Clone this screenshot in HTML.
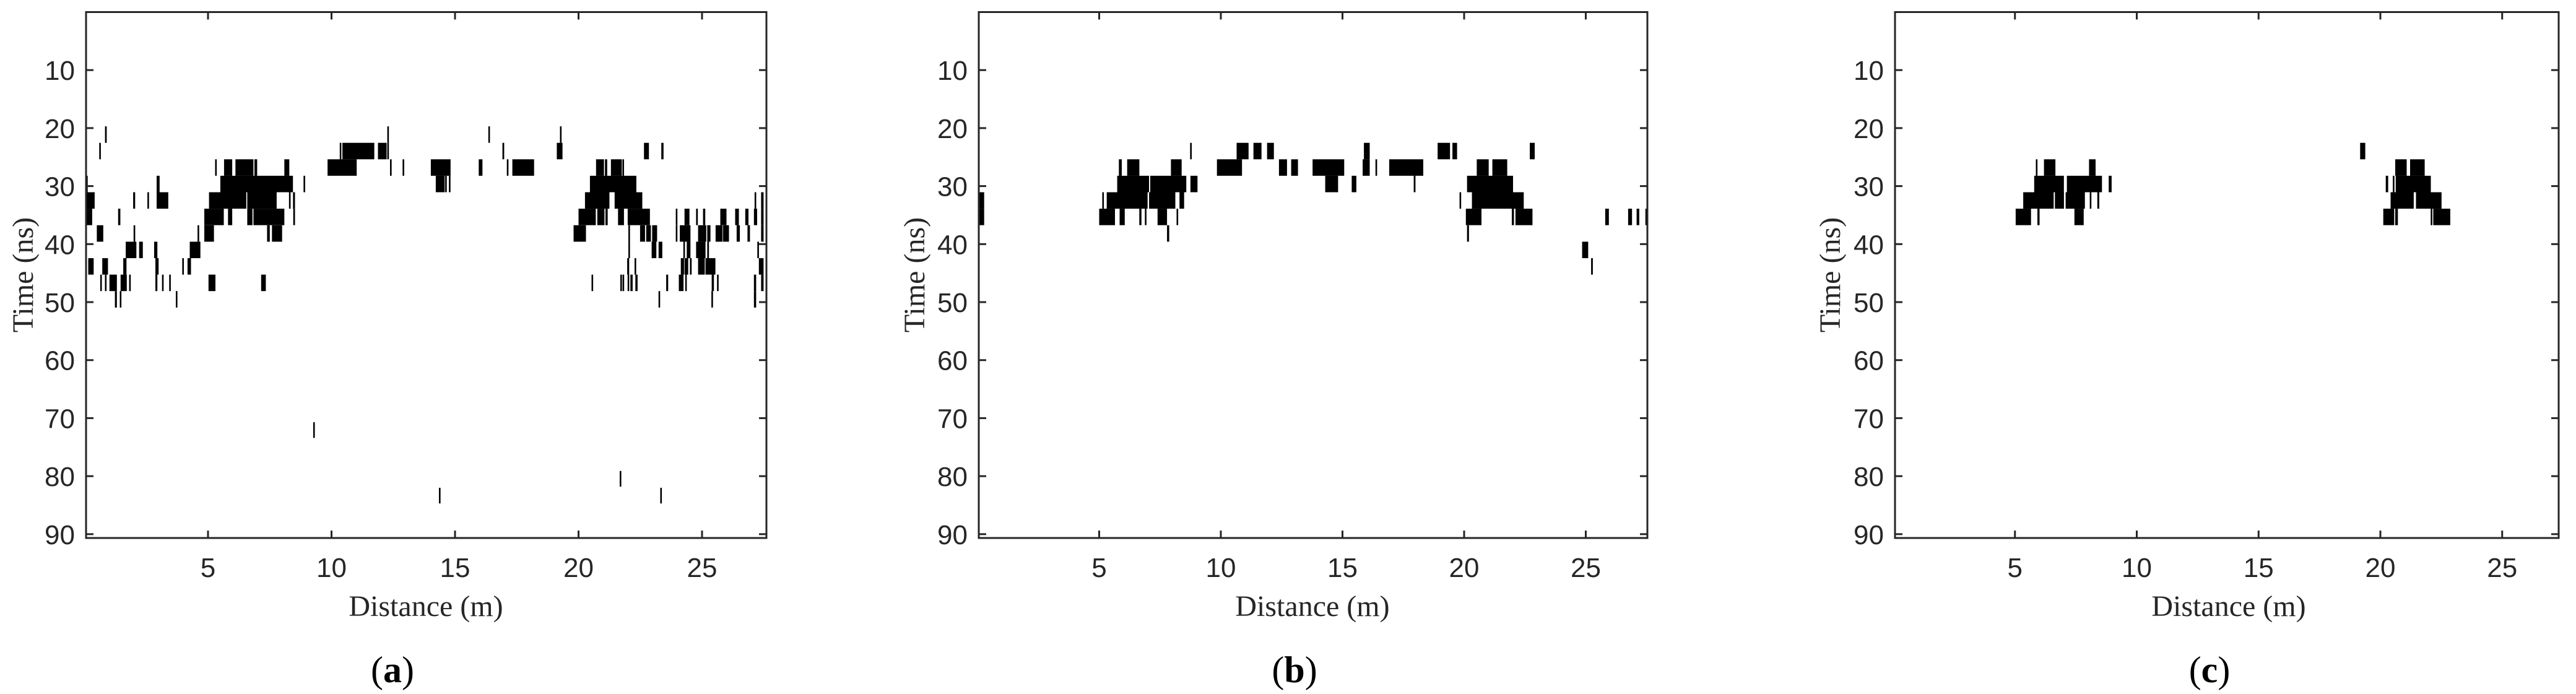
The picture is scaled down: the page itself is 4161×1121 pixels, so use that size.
<!DOCTYPE html>
<html><head><meta charset="utf-8"><style>
html,body{margin:0;padding:0;background:#fff;}
svg{display:block;}
</style></head><body>
<svg id="fig" xmlns="http://www.w3.org/2000/svg" width="4161" height="1121" viewBox="0 0 4161 1121"></svg>
<script>
// ---- Data (distance in m, time rows of B-scan grid) ----
const timeTicks = [10,20,30,40,50,60,70,80,90];
const distTicks = [5,10,15,20,25];
const rowStartNs = 19.7;
const rowStepNs = 2.84;
const panelLetters = ["a","b","c"];

const aSegmentsByRow = [
 [[0.83,0.90],[12.29,12.29],[16.38,16.38],[19.28,19.28]],
 [[0.63,0.63],[10.34,10.39],[10.44,11.73],[11.88,12.23],[12.29,12.29],[16.92,16.99],[19.12,19.35],[22.65,22.85],[23.35,23.44]],
 [[5.32,5.32],[5.65,5.98],[6.11,6.84],[6.88,6.99],[8.09,8.29],[9.84,11.02],[12.40,12.40],[12.91,12.91],[14.02,14.82],[15.96,16.11],[17.13,17.13],[17.32,18.2],[20.71,21.03],[21.07,21.16],[21.31,21.75],[21.81,21.81]],
 [[0.06,0.13],[2.92,3.04],[5.50,8.44],[8.90,8.90],[14.22,14.58],[14.62,14.65],[14.76,14.81],[20.46,22.34]],
 [[0.06,0.41],[1.97,2.05],[2.58,2.58],[2.92,3.39],[5.04,6.55],[6.59,7.78],[8.31,8.31],[8.44,8.52],[20.26,21.25],[21.46,22.58],[27.16,27.16],[27.39,27.49]],
 [[0.06,0.31],[1.36,1.45],[4.85,5.64],[5.81,5.98],[6.59,6.80],[6.84,8.09],[8.45,8.52],[20.0,20.7],[20.76,21.05],[21.09,21.18],[21.6,21.84],[21.99,22.89],[23.97,23.97],[24.29,24.49],[24.76,24.83],[25.04,25.13],[25.74,25.99],[26.34,26.49],[26.75,26.88],[27.1,27.23],[27.39,27.49]],
 [[0.50,0.76],[2.02,2.02],[4.61,4.61],[4.85,5.24],[7.39,7.50],[7.59,8.0],[19.8,20.3],[22.05,22.05],[22.49,22.69],[22.74,22.93],[22.98,23.18],[23.97,23.97],[24.1,24.53],[24.84,25.17],[25.21,25.34],[25.55,25.83],[25.85,26.09],[26.4,26.53],[26.84,26.94],[27.39,27.49]],
 [[1.67,2.10],[2.21,2.36],[2.82,2.95],[4.26,4.69],[22.05,22.05],[22.96,23.15],[23.24,23.39],[24.25,24.3],[24.38,24.53],[24.76,25.14],[25.21,25.28],[27.27,27.27]],
 [[0.15,0.37],[0.72,0.95],[1.57,1.70],[2.87,3.0],[3.96,4.02],[4.17,4.31],[21.97,22.05],[22.3,22.3],[24.14,24.27],[24.29,24.44],[24.51,24.58],[24.84,25.11],[25.14,25.54],[27.3,27.49]],
 [[0.67,0.67],[0.83,0.89],[1.01,1.31],[1.46,1.71],[1.84,1.84],[2.87,2.95],[3.17,3.17],[3.46,3.46],[5.02,5.30],[7.15,7.34],[20.56,20.56],[21.7,21.75],[21.79,21.84],[21.99,22.05],[22.1,22.19],[22.3,22.39],[23.55,23.63],[24.06,24.25],[24.32,24.38],[25.39,25.48],[25.61,25.67],[27.1,27.19],[27.39,27.49]],
 [[1.23,1.31],[1.46,1.46],[3.73,3.73],[23.27,23.27],[25.41,25.41],[27.1,27.19]]
];
const aOutlierX = [9.29, 21.7, 14.38, 23.34];
const aOutlierT0 = [70.7, 79.1, 82.0, 82.0];
const aOutlierT1 = [73.4, 81.8, 84.7, 84.7];

const bSegmentsByRow = [
 [],
 [[8.77,8.77],[10.65,11.14],[11.34,11.67],[11.9,12.18],[15.88,16.12],[18.91,19.42],[19.52,19.71],[22.7,22.9]],
 [[5.81,5.93],[6.15,6.65],[7.95,8.39],[9.84,10.87],[12.39,12.72],[12.89,13.17],[13.77,15.07],[15.83,16.12],[16.37,16.41],[16.92,18.32],[20.52,21.01],[21.16,21.77]],
 [[5.74,7.05],[7.1,8.58],[8.75,9.04],[14.29,14.82],[15.38,15.57],[17.93,18.0],[20.12,22.01]],
 [[0.06,0.27],[5.16,5.16],[5.31,6.99],[7.05,8.13],[8.3,8.49],[19.82,19.87],[20.32,22.45]],
 [[0.06,0.27],[5.0,5.65],[5.84,6.05],[6.65,6.74],[6.88,6.94],[7.4,7.79],[8.19,8.24],[20.07,20.71],[21.96,22.05],[22.11,22.81],[25.8,25.95],[26.74,26.9],[27.09,27.2],[27.45,27.54]],
 [[7.79,7.88],[20.12,20.2]],
 [[24.85,25.1]],
 [[25.22,25.29]]
];

const cSegmentsByRow = [
 [],
 [[19.17,19.38]],
 [[5.89,5.89],[6.19,6.66],[8.04,8.31],[20.61,21.08],[21.22,21.82]],
 [[5.79,7.01],[7.13,8.57],[8.85,8.97],[20.22,20.32],[20.52,20.57],[20.63,22.07]],
 [[5.34,6.59],[6.64,7.01],[7.08,7.87],[8.08,8.13],[8.38,8.46],[20.42,21.37],[21.46,22.51]],
 [[5.03,5.66],[5.92,6.01],[7.44,7.82],[20.12,20.57],[20.61,20.72],[22.07,22.13],[22.17,22.87]]
];

// ---- Layout ----
const NS = "http://www.w3.org/2000/svg";
const svg = document.getElementById("fig");
const TOP = 19.5, BOT = 869, TMAX = 90.66;
const panels = [
 {left:139, right:1238, x0:136.5, k:39.9, segs:aSegmentsByRow, ylab:37, letterX:634, distX:688},
 {left:1581, right:2661, x0:1579, k:39.3, segs:bSegmentsByRow, ylab:1477, letterX:2091, distX:2120},
 {left:3061, right:4133, x0:3058, k:39.35, segs:cSegmentsByRow, ylab:2956, letterX:3569, distX:3600}
];
function yScale(t){ return TOP + (t/TMAX)*(BOT-TOP); }
function mk(tag, attrs, parent){
  const el = document.createElementNS(NS, tag);
  for (const k in attrs) el.setAttribute(k, attrs[k]);
  (parent||svg).appendChild(el);
  return el;
}
function rect(g, P, m0, m1, t0, t1){
  let x0 = P.x0 + P.k*m0, x1 = P.x0 + P.k*m1;
  let w = x1 - x0;
  if (w < 2.6){ const c=(x0+x1)/2; x0 = c-1.3; w = 2.6; }
  if (x0 + w > P.right - 1.5) w = Math.max(1, P.right - 1.5 - x0);
  const r = mk("rect", {x:x0.toFixed(1), y:yScale(t0).toFixed(1), width:w.toFixed(1), height:(yScale(t1)-yScale(t0)).toFixed(1), fill:"#000"}, g);
  
  
}

panels.forEach((P, pi) => {
  const g = mk("g", {});
  
  
  const dg = mk("g", {}, g);
  
  
  P.segs.forEach((row, ri) => {
    const t0 = rowStartNs + ri*rowStepNs, t1 = t0 + rowStepNs;
    row.forEach(s => rect(dg, P, s[0], s[1], t0, t1));
  });
  if (pi === 0){
    aOutlierX.forEach((x, i) => rect(dg, P, x, x, aOutlierT0[i], aOutlierT1[i]));
  }
  const col = "#262626";
  // ticks
  timeTicks.forEach(t => {
    const y = yScale(t);
    const l1 = mk("line", {x1:P.left, x2:P.left+12, y1:y, y2:y, stroke:col, "stroke-width":3}, g);
    
    
    const l2 = mk("line", {x1:P.right, x2:P.right-12, y1:y, y2:y, stroke:col, "stroke-width":3}, g);
    
    
    const tx = mk("text", {x:P.left-18, y:y+16, "text-anchor":"end", "font-family":"Liberation Sans, Arial, sans-serif", "font-size":44, fill:col}, g);
    tx.textContent = t;
    
    
  });
  distTicks.forEach(d => {
    const x = P.x0 + P.k*d;
    const l1 = mk("line", {x1:x, x2:x, y1:BOT, y2:BOT-12, stroke:col, "stroke-width":3}, g);
    
    
    const l2 = mk("line", {x1:x, x2:x, y1:TOP, y2:TOP+12, stroke:col, "stroke-width":3}, g);
    
    
    const tx = mk("text", {x:x, y:932, "text-anchor":"middle", "font-family":"Liberation Sans, Arial, sans-serif", "font-size":44, fill:col}, g);
    tx.textContent = d;
    
    
  });
  const box = mk("rect", {x:P.left, y:TOP, width:P.right-P.left, height:BOT-TOP, fill:"none", stroke:col, "stroke-width":3}, g);
  
  
  const xl = mk("text", {x:P.distX, y:995, "text-anchor":"middle", "font-family":"Liberation Serif, Times New Roman, serif", "font-size":48, fill:col}, g);
  xl.textContent = "Distance (m)";
  
  
  const yl = mk("text", {x:0, y:0, "text-anchor":"middle", transform:"translate(" + (P.ylab+16) + ",444) rotate(-90)", "font-family":"Liberation Serif, Times New Roman, serif", "font-size":48, fill:col}, g);
  yl.textContent = "Time (ns)";
  
  
  const pl = mk("text", {x:P.letterX, y:1102, "text-anchor":"middle", "font-family":"Liberation Serif, Times New Roman, serif", "font-size":60, fill:"#000"}, g);
  pl.innerHTML = '(<tspan font-weight="bold">' + panelLetters[pi] + '</tspan>)';
  
  
});
</script>
</body></html>
